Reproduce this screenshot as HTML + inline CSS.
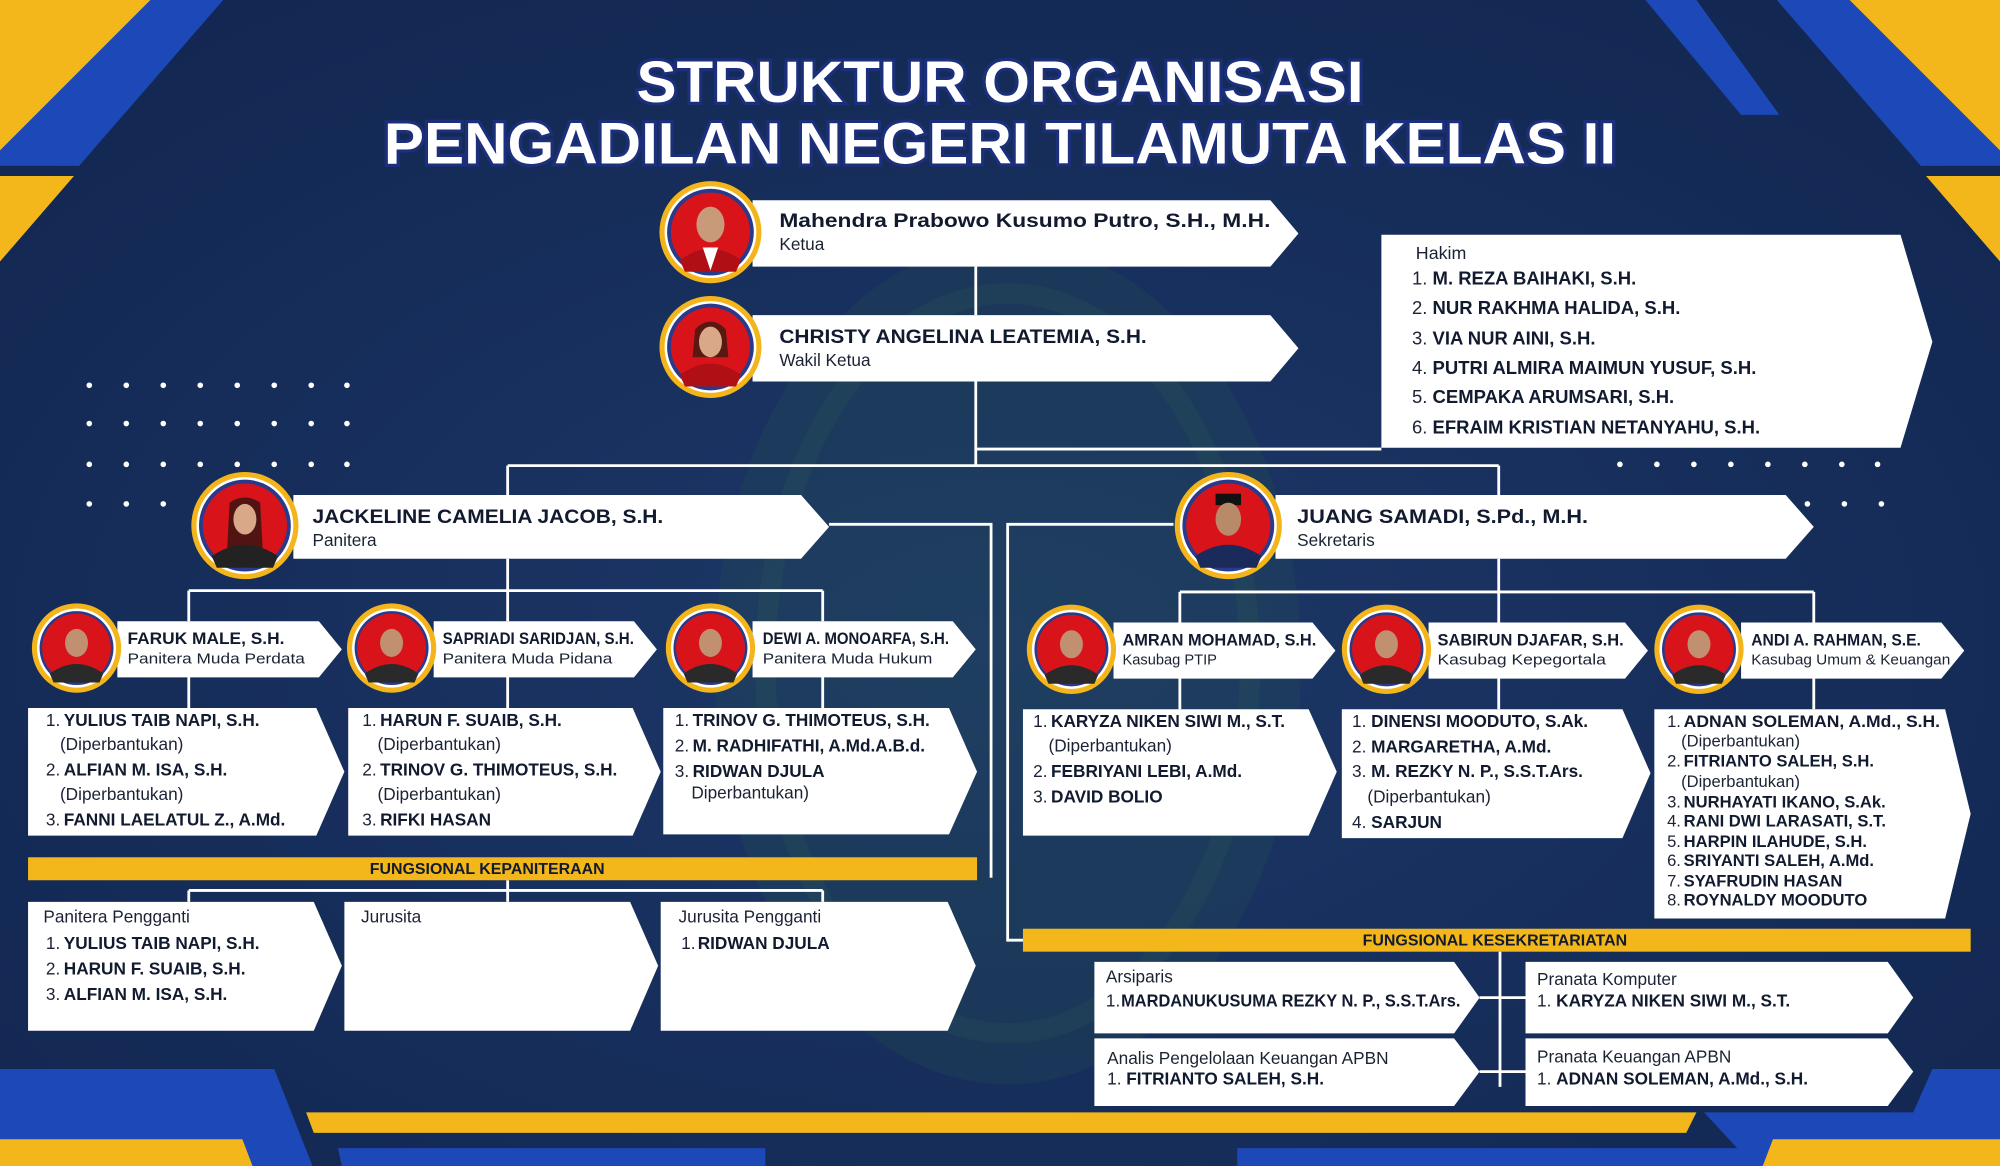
<!DOCTYPE html>
<html><head><meta charset="utf-8"><style>
html,body{margin:0;padding:0;background:#15294f;}
svg{display:block}
text{font-family:"Liberation Sans",sans-serif;}
.b{font-weight:bold;fill:#111a2e}
.r{fill:#1b2233}
</style></head><body>
<svg width="2000" height="1166" viewBox="0 0 1568 914" preserveAspectRatio="none" xmlns="http://www.w3.org/2000/svg">
<defs>
<radialGradient id="bg" cx="50%" cy="55%" r="70%">
<stop offset="0" stop-color="#1d3868"/><stop offset="0.6" stop-color="#162d5a"/><stop offset="1" stop-color="#122650"/></radialGradient>
<g id="sa"><circle r="35" fill="#f3b51b"/><circle r="31" fill="#fff"/><circle r="29" fill="#2a3a8a"/><circle r="27" fill="#d8141a"/><ellipse cx="0" cy="-4" rx="9" ry="11" fill="#c09070"/><path d="M-21,20 Q0,5 21,20 L18,27 -18,27Z" fill="#2a2a2a"/></g>
</defs>
<rect width="1568" height="914" fill="url(#bg)"/>
<ellipse cx="790" cy="520" rx="230" ry="330" fill="#2a5a4a" opacity="0.2"/>
<ellipse cx="790" cy="520" rx="190" ry="290" fill="none" stroke="#3d6d4f" stroke-width="16" opacity="0.15"/>
<g fill="#ffffff">
<g id="dr"><circle cx="70" cy="302" r="2.2"/><circle cx="99" cy="302" r="2.2"/><circle cx="128" cy="302" r="2.2"/><circle cx="157" cy="302" r="2.2"/><circle cx="186" cy="302" r="2.2"/><circle cx="215" cy="302" r="2.2"/><circle cx="244" cy="302" r="2.2"/><circle cx="272" cy="302" r="2.2"/></g>
<use href="#dr" y="30"/><use href="#dr" y="62"/>
<circle cx="70" cy="395" r="2.2"/><circle cx="99" cy="395" r="2.2"/><circle cx="128" cy="395" r="2.2"/>
<use href="#dr" x="1200" y="62"/>
<circle cx="1417" cy="395" r="2.2"/><circle cx="1446" cy="395" r="2.2"/><circle cx="1475" cy="395" r="2.2"/>
</g>
<polygon points="0,0 118,0 0,118" fill="#f4b71b"/>
<polygon points="118,0 175,0 62,130 0,130 0,118" fill="#1d49b8"/>
<polygon points="0,138 58,138 0,205" fill="#f4b71b"/>
<polygon points="1568,0 1450,0 1568,118" fill="#f4b71b"/>
<polygon points="1450,0 1393,0 1506,130 1568,130 1568,118" fill="#1d49b8"/>
<polygon points="1290,0 1330,0 1395,90 1365,90" fill="#1d49b8"/>
<polygon points="1568,138 1510,138 1568,205" fill="#f4b71b"/>
<!-- bottom -->
<polygon points="0,838 215,838 245,914 0,914" fill="#1d49b8"/>
<polygon points="0,893 190,893 198,914 0,914" fill="#f4b71b"/>
<polygon points="240,872 1330,872 1322,888 246,888" fill="#f4b71b"/>
<polygon points="265,900 600,900 600,914 268,914" fill="#1d49b8"/>
<polygon points="970,900 1380,900 1376,914 970,914" fill="#1d49b8"/>
<polygon points="1515,838 1568,838 1568,914 1375,914 1336,872 1500,872" fill="#1d49b8"/>
<polygon points="1390,893 1568,893 1568,914 1382,914" fill="#f4b71b"/>

<g font-weight="bold" fill="#ffffff" stroke="#1b2f7a" stroke-width="5" paint-order="stroke" text-anchor="middle">
<text x="784" y="80" font-size="46" textLength="570" lengthAdjust="spacingAndGlyphs">STRUKTUR ORGANISASI</text>
<text x="784" y="128" font-size="46" textLength="966" lengthAdjust="spacingAndGlyphs">PENGADILAN NEGERI TILAMUTA KELAS II</text>
</g>

<g stroke="#ffffff" stroke-width="2.2" fill="none">
<path d="M765,209V247M765,299V365M765,352H1083M398,365H1175M398,365V388M1175,365V388"/>
<path d="M398,438V463M148,463H645M148,463V487M398,463V487M645,463V487"/>
<path d="M650,411H777V688"/>
<path d="M920,411H790V737H802"/>
<path d="M1175,438V464M925,464H1422M925,464V488M1175,464V488M1422,464V488"/>
<path d="M148,530V555M398,530V555M645,530V555M925,531V556M1175,531V556M1422,531V556"/>
<path d="M398,690V707M148,698H645M148,698V707M645,698V707"/>
<path d="M1176,746V852M1160,782H1196M1160,840H1196"/>
</g>

<g fill="#ffffff">
<polygon points="590,157 996,157 1018,183 996,209 590,209"/>
<polygon points="590,247 996,247 1018,273 996,299 590,299"/>
<polygon points="1083,184 1490,184 1515,268 1490,351 1083,351"/>
<polygon points="230,388 628,388 650,413 628,438 230,438"/>
<polygon points="1000,388 1400,388 1422,413 1400,438 1000,438"/>
<polygon points="92,487 250,487 268,509 250,531 92,531"/>
<polygon points="340,487 497,487 515,509 497,531 340,531"/>
<polygon points="590,487 747,487 765,509 747,531 590,531"/>
<polygon points="873,488 1029,488 1047,510 1029,532 873,532"/>
<polygon points="1120,488 1274,488 1292,510 1274,532 1120,532"/>
<polygon points="1365,488 1522,488 1540,510 1522,532 1365,532"/>
<polygon points="22,555 248,555 270,605 248,655 22,655"/>
<polygon points="273,555 496,555 518,605 496,655 273,655"/>
<polygon points="520,555 744,555 766,605 744,654 520,654"/>
<polygon points="802,556 1026,556 1048,605 1026,655 802,655"/>
<polygon points="1052,556 1272,556 1294,606 1272,657 1052,657"/>
<polygon points="1297,556 1525,556 1545,638 1525,720 1297,720"/>
<polygon points="22,707 246,707 268,757 246,808 22,808"/>
<polygon points="270,707 494,707 516,757 494,808 270,808"/>
<polygon points="518,707 743,707 765,757 743,808 518,808"/>
<polygon points="858,754 1140,754 1160,782 1140,810 858,810"/>
<polygon points="858,814 1140,814 1160,840 1140,867 858,867"/>
<polygon points="1196,754 1480,754 1500,782 1480,810 1196,810"/>
<polygon points="1196,814 1480,814 1500,840 1480,867 1196,867"/>
</g>
<rect x="22" y="672" width="744" height="18" fill="#f4b71b"/>
<rect x="802" y="728" width="743" height="18" fill="#f4b71b"/>

<g transform="translate(557,182)"><circle r="40" fill="#f3b51b"/><circle r="36" fill="#fff"/><circle r="34" fill="#2a3a8a"/><circle r="31" fill="#d8141a"/><ellipse cx="0" cy="-6" rx="11" ry="14" fill="#c99a7a"/><path d="M-24,22 Q0,4 24,22 L20,31 -20,31Z" fill="#b01015"/><path d="M-6,12 L0,30 6,12Z" fill="#fff"/></g>
<g transform="translate(557,272)"><circle r="40" fill="#f3b51b"/><circle r="36" fill="#fff"/><circle r="34" fill="#2a3a8a"/><circle r="31" fill="#d8141a"/><path d="M-12,-14 Q0,-26 12,-14 L14,8 -14,8Z" fill="#3a1a10" opacity="0.8"/><ellipse cx="0" cy="-4" rx="9" ry="12" fill="#d8a888"/><path d="M-24,22 Q0,4 24,22 L20,31 -20,31Z" fill="#b01015"/></g>
<g transform="translate(192,412)"><circle r="42" fill="#f3b51b"/><circle r="38" fill="#fff"/><circle r="36" fill="#2a3a8a"/><circle r="33" fill="#d8141a"/><path d="M-12,-18 Q0,-26 12,-18 L14,20 -14,20Z" fill="#1a1410" opacity="0.7"/><ellipse cx="0" cy="-5" rx="9" ry="12" fill="#d8a888"/><path d="M-26,24 Q0,6 26,24 L22,33 -22,33Z" fill="#222"/></g>
<g transform="translate(963,412)"><circle r="42" fill="#f3b51b"/><circle r="38" fill="#fff"/><circle r="36" fill="#2a3a8a"/><circle r="33" fill="#d8141a"/><rect x="-10" y="-25" width="20" height="9" fill="#111"/><ellipse cx="0" cy="-5" rx="10" ry="13" fill="#b98a6a"/><path d="M-26,24 Q0,6 26,24 L22,33 -22,33Z" fill="#1a2a5a"/></g>
<use href="#sa" x="60" y="508"/><use href="#sa" x="307" y="508"/><use href="#sa" x="557" y="508"/>
<use href="#sa" x="840" y="509"/><use href="#sa" x="1087" y="509"/><use href="#sa" x="1332" y="509"/>

<g class="b" font-size="15.5">
<text x="611" y="178" textLength="385" lengthAdjust="spacingAndGlyphs">Mahendra Prabowo Kusumo Putro, S.H., M.H.</text>
<text x="611" y="269" textLength="288" lengthAdjust="spacingAndGlyphs">CHRISTY ANGELINA LEATEMIA, S.H.</text>
<text x="245" y="410" textLength="275" lengthAdjust="spacingAndGlyphs">JACKELINE CAMELIA JACOB, S.H.</text>
<text x="1017" y="410" textLength="228" lengthAdjust="spacingAndGlyphs">JUANG SAMADI, S.Pd., M.H.</text>
</g>
<g class="r" font-size="13.5">
<text x="611" y="196">Ketua</text>
<text x="611" y="287">Wakil Ketua</text>
<text x="245" y="428">Panitera</text>
<text x="1017" y="428">Sekretaris</text>
</g>
<g class="b" font-size="13">
<text x="100" y="505" textLength="123" lengthAdjust="spacingAndGlyphs">FARUK MALE, S.H.</text>
<text x="347" y="505" textLength="150" lengthAdjust="spacingAndGlyphs">SAPRIADI SARIDJAN, S.H.</text>
<text x="598" y="505" textLength="146" lengthAdjust="spacingAndGlyphs">DEWI A. MONOARFA, S.H.</text>
<text x="880" y="506" textLength="152" lengthAdjust="spacingAndGlyphs">AMRAN MOHAMAD, S.H.</text>
<text x="1127" y="506" textLength="146" lengthAdjust="spacingAndGlyphs">SABIRUN DJAFAR, S.H.</text>
<text x="1373" y="506" textLength="133" lengthAdjust="spacingAndGlyphs">ANDI A. RAHMAN, S.E.</text>
</g>
<g class="r" font-size="11.5">
<text x="100" y="520" textLength="139" lengthAdjust="spacingAndGlyphs">Panitera Muda Perdata</text>
<text x="347" y="520" textLength="133" lengthAdjust="spacingAndGlyphs">Panitera Muda Pidana</text>
<text x="598" y="520" textLength="133" lengthAdjust="spacingAndGlyphs">Panitera Muda Hukum</text>
<text x="880" y="521">Kasubag PTIP</text>
<text x="1127" y="521" textLength="132" lengthAdjust="spacingAndGlyphs">Kasubag Kepegortala</text>
<text x="1373" y="521" textLength="156" lengthAdjust="spacingAndGlyphs">Kasubag Umum &amp; Keuangan</text>
</g>

<text x="1110" y="203" class="r" font-size="14">Hakim</text>
<g font-size="14.5">
<text x="1107" y="223"><tspan class="r">1. </tspan><tspan class="b">M. REZA BAIHAKI, S.H.</tspan></text>
<text x="1107" y="246"><tspan class="r">2. </tspan><tspan class="b">NUR RAKHMA HALIDA, S.H.</tspan></text>
<text x="1107" y="270"><tspan class="r">3. </tspan><tspan class="b">VIA NUR AINI, S.H.</tspan></text>
<text x="1107" y="293"><tspan class="r">4. </tspan><tspan class="b">PUTRI ALMIRA MAIMUN YUSUF, S.H.</tspan></text>
<text x="1107" y="316"><tspan class="r">5. </tspan><tspan class="b">CEMPAKA ARUMSARI, S.H.</tspan></text>
<text x="1107" y="340"><tspan class="r">6. </tspan><tspan class="b">EFRAIM KRISTIAN NETANYAHU, S.H.</tspan></text>
</g>

<g font-size="13.5">
<g class="r"><text x="36" y="569">1.</text><text x="36" y="608">2.</text><text x="36" y="647">3.</text>
<text x="47" y="588">(Diperbantukan)</text><text x="47" y="627">(Diperbantukan)</text></g>
<g class="b"><text x="50" y="569">YULIUS TAIB NAPI, S.H.</text><text x="50" y="608">ALFIAN M. ISA, S.H.</text><text x="50" y="647">FANNI LAELATUL Z., A.Md.</text></g>
<g class="r"><text x="284" y="569">1.</text><text x="284" y="608">2.</text><text x="284" y="647">3.</text>
<text x="296" y="588">(Diperbantukan)</text><text x="296" y="627">(Diperbantukan)</text></g>
<g class="b"><text x="298" y="569">HARUN F. SUAIB, S.H.</text><text x="298" y="608">TRINOV G. THIMOTEUS, S.H.</text><text x="298" y="647">RIFKI HASAN</text></g>
<g class="r"><text x="529" y="569">1.</text><text x="529" y="589">2.</text><text x="529" y="609">3.</text>
<text x="542" y="626">Diperbantukan)</text></g>
<g class="b"><text x="543" y="569">TRINOV G. THIMOTEUS, S.H.</text><text x="543" y="589">M. RADHIFATHI, A.Md.A.B.d.</text><text x="543" y="609">RIDWAN DJULA</text></g>
<g class="r"><text x="810" y="570">1.</text><text x="810" y="609">2.</text><text x="810" y="629">3.</text>
<text x="822" y="589">(Diperbantukan)</text></g>
<g class="b"><text x="824" y="570">KARYZA NIKEN SIWI M., S.T.</text><text x="824" y="609">FEBRIYANI LEBI, A.Md.</text><text x="824" y="629">DAVID BOLIO</text></g>
<g class="r"><text x="1060" y="570">1.</text><text x="1060" y="590">2.</text><text x="1060" y="609">3.</text><text x="1060" y="649">4.</text>
<text x="1072" y="629">(Diperbantukan)</text></g>
<g class="b"><text x="1075" y="570">DINENSI MOODUTO, S.Ak.</text><text x="1075" y="590">MARGARETHA, A.Md.</text><text x="1075" y="609">M. REZKY N. P., S.S.T.Ars.</text><text x="1075" y="649">SARJUN</text></g>
</g>
<g font-size="13">
<g class="r"><text x="1307" y="570">1.</text><text x="1307" y="601">2.</text><text x="1307" y="633">3.</text><text x="1307" y="648">4.</text><text x="1307" y="664">5.</text><text x="1307" y="679">6.</text><text x="1307" y="695">7.</text><text x="1307" y="710">8.</text>
<text x="1318" y="585">(Diperbantukan)</text><text x="1318" y="617">(Diperbantukan)</text></g>
<g class="b"><text x="1320" y="570" textLength="201" lengthAdjust="spacingAndGlyphs">ADNAN SOLEMAN, A.Md., S.H.</text><text x="1320" y="601">FITRIANTO SALEH, S.H.</text><text x="1320" y="633">NURHAYATI IKANO, S.Ak.</text><text x="1320" y="648">RANI DWI LARASATI, S.T.</text><text x="1320" y="664">HARPIN ILAHUDE, S.H.</text><text x="1320" y="679">SRIYANTI SALEH, A.Md.</text><text x="1320" y="695">SYAFRUDIN HASAN</text><text x="1320" y="710">ROYNALDY MOODUTO</text></g>
</g>

<g class="b" font-size="12.5" text-anchor="middle">
<text x="382" y="685">FUNGSIONAL KEPANITERAAN</text>
<text x="1172" y="741">FUNGSIONAL KESEKRETARIATAN</text>
</g>

<g font-size="13.5">
<text x="34" y="723" class="r">Panitera Pengganti</text>
<text x="283" y="723" class="r">Jurusita</text>
<text x="532" y="723" class="r">Jurusita Pengganti</text>
<g class="r"><text x="36" y="744">1.</text><text x="36" y="764">2.</text><text x="36" y="784">3.</text><text x="534" y="744">1.</text></g>
<g class="b"><text x="50" y="744">YULIUS TAIB NAPI, S.H.</text><text x="50" y="764">HARUN F. SUAIB, S.H.</text><text x="50" y="784">ALFIAN M. ISA, S.H.</text><text x="547" y="744">RIDWAN DJULA</text></g>
</g>

<g font-size="13.5">
<text x="867" y="770" class="r">Arsiparis</text>
<text x="868" y="834" class="r">Analis Pengelolaan Keuangan APBN</text>
<text x="1205" y="772" class="r">Pranata Komputer</text>
<text x="1205" y="833" class="r">Pranata Keuangan APBN</text>
<text x="867" y="789" class="r">1.</text><text x="879" y="789" class="b" textLength="266" lengthAdjust="spacingAndGlyphs">MARDANUKUSUMA REZKY N. P., S.S.T.Ars.</text>
<text x="868" y="850"><tspan class="r">1. </tspan><tspan class="b">FITRIANTO SALEH, S.H.</tspan></text>
<text x="1205" y="789"><tspan class="r">1. </tspan><tspan class="b">KARYZA NIKEN SIWI M., S.T.</tspan></text>
<text x="1205" y="850"><tspan class="r">1. </tspan><tspan class="b">ADNAN SOLEMAN, A.Md., S.H.</tspan></text>
</g>
</svg>
</body></html>
